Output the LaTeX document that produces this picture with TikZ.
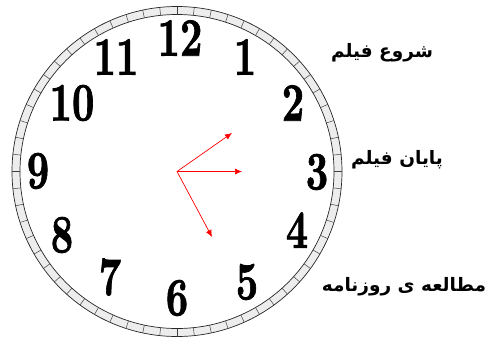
\documentclass[tikz,border=0pt]{standalone}
\usepackage{fontspec}
\newfontfamily\arabicfont[Script=Arabic]{DejaVu Sans}
\newfontfamily\dialfont[FakeBold=1.6]{lmroman10-bold.otf}
\TeXXeTstate=1
\usetikzlibrary{arrows.meta,calc}
\begin{document}
\begin{tikzpicture}[x=1pt,y=-1pt,
hour/.style={font=\dialfont\fontsize{54}{54}\selectfont,inner sep=0pt},
tag/.style={font=\arabicfont\bfseries\fontsize{18.5}{18.5}\selectfont,inner sep=0pt},
hand/.style={draw=red,line width=0.7pt,-{Latex[length=7pt,width=6pt]}},
ring/.style={draw=black!85,line width=0.7pt}
]
\useasboundingbox (0,0) rectangle (489,338);
\coordinate (ctr) at (177,171.5);
% dial ring
\fill[black!7,even odd rule] (ctr) circle[radius=165] (ctr) circle[radius=157];
\draw[ring] (ctr) circle[radius=165];
\draw[ring] (ctr) circle[radius=157];
\foreach \a in {0,6,...,354}
  \draw[black!75,line width=0.5pt] ($(ctr)+(\a:157)$) -- ($(ctr)+(\a:165)$);
% hours
\foreach \n/\x/\y in {12/180/38,1/245/57,2/293/103,3/317/172,4/297/230,5/247/282,
  6/177/298,7/110/277,8/62/235,9/38/171,10/72/103,11/116/57}
  \node[hour] (h\n) at (\x,\y) {\scalebox{0.72}[1]{\n}};
% hands
\coordinate (start) at (232,133);
\coordinate (finish) at (242,171.5);
\coordinate (paper) at (212,237);
\draw[hand] (ctr) -- (start);
\draw[hand] (ctr) -- (finish);
\draw[hand] (ctr) -- (paper);
% labels
\node[tag] (lstart) at (382,53) {\beginR شروع فیلم\endR};
\node[tag] (lfinish) at (397,160) {\beginR پایان فیلم\endR};
\node[tag] (lpaper) at (404,287) {\beginR مطالعه ی روزنامه\endR};
\end{tikzpicture}
\end{document}
